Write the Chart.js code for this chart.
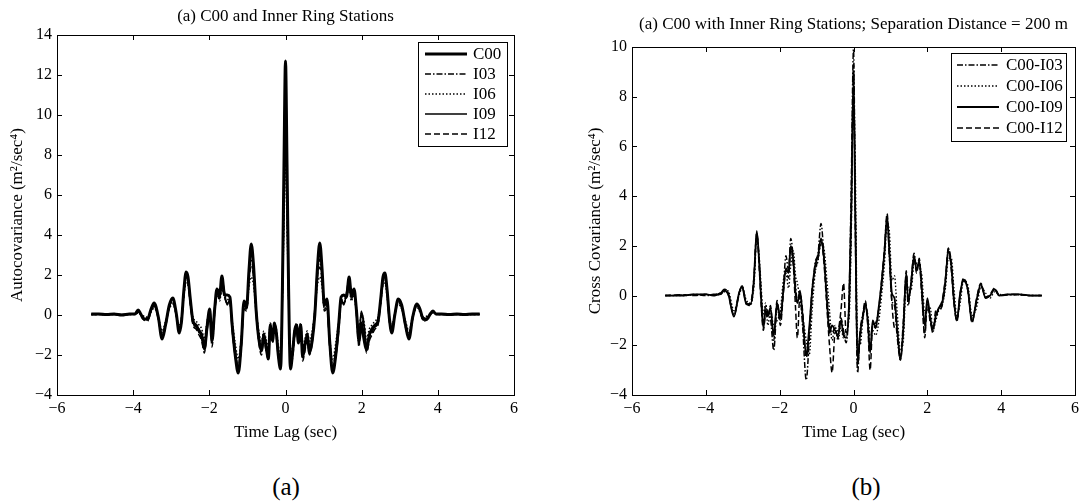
<!DOCTYPE html>
<html>
<head>
<meta charset="utf-8">
<script src="https://cdn.jsdelivr.net/npm/chart.js@4.4.1/dist/chart.umd.min.js"></script>
<style>
  html, body { margin: 0; padding: 0; background: #fff; }
  body { width: 1083px; height: 504px; position: relative; overflow: hidden; }
  canvas { position: absolute; top: 0; }
  #left { left: 0; }
  #right { left: 578px; }
  .cap { position: absolute; top: 473px; font: 25px "Liberation Serif", serif; color: #000; transform: translateX(-50%); }
</style>
</head>
<body>
<canvas id="left" width="540" height="450"></canvas>
<canvas id="right" width="505" height="450"></canvas>
<div class="cap" style="left:286px">(a)</div>
<div class="cap" style="left:866px">(b)</div>
<script>
// ---- panel (a): autocovariance, lag in seconds ----
const lagA = [
  -5.1, -4.9, -4.7, -4.5, -4.3, -4.1, -3.95, -3.87, -3.8, -3.72,
  -3.62, -3.53, -3.45, -3.34, -3.24, -3.15, -3.05, -2.96, -2.87, -2.79,
  -2.73, -2.67, -2.61, -2.56, -2.5, -2.43, -2.35, -2.27, -2.2, -2.13,
  -2.06, -1.99, -1.93, -1.86, -1.8, -1.73, -1.67, -1.6, -1.53, -1.46,
  -1.4, -1.32, -1.24, -1.16, -1.09, -1.02, -0.96, -0.9, -0.84, -0.77,
  -0.7, -0.63, -0.57, -0.51, -0.45, -0.4, -0.34, -0.29, -0.24, -0.19,
  -0.13, -0.08, -0.04, 0,
  0.04, 0.08, 0.13, 0.19, 0.24, 0.29, 0.34, 0.4, 0.45, 0.51,
  0.57, 0.63, 0.7, 0.77, 0.84, 0.9, 0.96, 1.02, 1.09, 1.16,
  1.24, 1.32, 1.4, 1.46, 1.53, 1.6, 1.67, 1.73, 1.8, 1.86,
  1.93, 1.99, 2.06, 2.13, 2.2, 2.27, 2.35, 2.43, 2.5, 2.56,
  2.61, 2.67, 2.73, 2.79, 2.87, 2.96, 3.05, 3.15, 3.24, 3.34,
  3.45, 3.53, 3.62, 3.72, 3.8, 3.87, 3.95, 4.1, 4.3, 4.5,
  4.7, 4.9, 5.1
];

const c00 = [
  0.05, 0.05, 0.03, 0.05, 0.0, 0.05, 0.05, 0.25, 0.05, -0.2,
  -0.2, 0.3, 0.6, -0.1, -1.2, -0.5, 0.5, 0.85, 0.1, -0.9,
  -0.3, 1.2, 2.15, 1.9, 0.8, -0.3, -0.5, -0.8, -1.0, -1.7,
  -0.6, 0.3, -1.3, 0.3, 1.3, 1.0, 1.95, 1.0, 1.0, 0.9,
  -0.5, -2.0, -2.9, -1.4, 0.7, 0.4, 2.2, 3.55, 2.5, 0.2,
  -1.2, -1.8, -1.0, -1.6, -2.2, -0.5, -1.3, -0.4, -0.9, -2.0,
  -2.7, 1.5, 7.5, 12.7,
  7.5, 1.5, -2.7, -1.8, -0.8, -0.5, -1.4, -0.5, -2.1, -1.5,
  -1.0, -1.9, -1.3, 0.0, 2.4, 3.6, 2.3, 0.5, 0.8, -1.3,
  -2.9, -2.0, -0.4, 0.9, 1.0, 0.9, 1.9, 1.0, 1.3, 0.3,
  -1.3, -0.4, -1.2, -1.75, -1.0, -0.7, -0.5, -0.3, 0.8, 1.9,
  2.1, 1.2, -0.2, -0.9, 0.0, 0.8, 0.5, -0.5, -1.2, -0.1,
  0.55, 0.3, -0.2, -0.2, 0.05, 0.2, 0.05, 0.05, 0.03, 0.05,
  0.02, 0.05, 0.05
];

const i03 = [
  0.02, 0.03, 0.02, 0.03, 0.0, 0.03, 0.04, 0.15, 0.03, -0.1,
  -0.15, 0.2, 0.45, -0.1, -0.95, -0.4, 0.35, 0.65, 0.0, -0.7,
  -0.2, 1.0, 1.85, 1.6, 0.6, -0.3, -0.5, -0.9, -1.2, -1.6,
  -0.4, 0.1, -1.1, 0.1, 1.0, 0.8, 1.6, 0.9, 0.6, 0.7,
  -0.5, -1.7, -2.6, -1.2, 0.4, 0.3, 1.8, 2.8, 2.0, 0.1,
  -1.0, -1.6, -0.9, -1.4, -1.9, -0.4, -1.1, -0.5, -0.8, -1.8,
  -2.4, 1.2, 6.2, 10.7,
  6.2, 1.2, -2.4, -1.8, -0.8, -0.5, -1.1, -0.4, -1.9, -1.4,
  -0.9, -1.6, -1.0, 0.1, 2.0, 2.8, 1.8, 0.3, 0.4, -1.2,
  -2.6, -1.7, -0.5, 0.7, 0.6, 0.9, 1.6, 0.8, 1.0, 0.1,
  -1.1, 0.1, -0.4, -1.6, -1.2, -0.9, -0.5, -0.3, 0.6, 1.6,
  1.85, 1.0, -0.2, -0.7, 0.0, 0.65, 0.35, -0.4, -0.95, -0.1,
  0.45, 0.2, -0.15, -0.1, 0.03, 0.15, 0.04, 0.03, 0.0, 0.03,
  0.02, 0.03, 0.02
];

const i06 = [
  0.02, 0.02, 0.01, 0.02, 0.0, 0.02, 0.03, 0.1, 0.02, -0.05,
  -0.1, 0.15, 0.35, -0.05, -0.8, -0.3, 0.3, 0.55, 0.05, -0.55,
  -0.1, 0.9, 1.6, 1.5, 0.7, -0.1, -0.3, -0.5, -0.7, -1.2,
  -0.3, 0.1, -0.9, 0.4, 1.1, 0.7, 1.3, 0.9, 0.8, 0.6,
  -0.3, -1.4, -2.2, -1.1, 0.5, 0.3, 1.4, 1.9, 1.5, 0.2,
  -0.8, -1.3, -0.8, -1.2, -1.6, -0.4, -1.0, -0.4, -0.7, -1.5,
  -2.0, 1.0, 4.5, 7.6,
  4.5, 1.0, -2.0, -1.5, -0.7, -0.4, -1.0, -0.4, -1.6, -1.2,
  -0.8, -1.3, -0.8, 0.2, 1.5, 1.9, 1.4, 0.3, 0.5, -1.1,
  -2.2, -1.4, -0.3, 0.6, 0.8, 0.9, 1.3, 0.7, 1.1, 0.4,
  -0.9, 0.1, -0.3, -1.2, -0.7, -0.5, -0.3, -0.1, 0.7, 1.5,
  1.6, 0.9, -0.1, -0.55, 0.05, 0.55, 0.3, -0.3, -0.8, -0.05,
  0.35, 0.15, -0.1, -0.05, 0.02, 0.1, 0.03, 0.02, 0.0, 0.02,
  0.01, 0.02, 0.02
];

const i09 = [
  0.03, 0.04, 0.02, 0.04, 0.01, 0.04, 0.06, 0.2, 0.04, -0.15,
  -0.25, 0.25, 0.55, -0.15, -1.1, -0.45, 0.45, 0.8, 0.05, -0.85,
  -0.25, 1.1, 2.05, 1.8, 0.75, -0.35, -0.6, -0.7, -1.1, -1.5,
  -0.5, 0.2, -1.2, 0.2, 1.2, 0.9, 1.8, 1.1, 0.5, 0.8,
  -0.6, -1.9, -2.8, -1.5, 0.6, 0.5, 2.0, 3.3, 2.4, 0.3,
  -1.1, -1.7, -1.1, -1.5, -2.0, -0.6, -1.2, -0.5, -1.0, -1.9,
  -2.6, 1.4, 7.2, 12.3,
  7.2, 1.4, -2.6, -1.9, -1.0, -0.5, -1.2, -0.6, -2.0, -1.5,
  -1.1, -1.7, -1.1, 0.3, 2.4, 3.3, 2.0, 0.5, 0.6, -1.5,
  -2.8, -1.9, -0.6, 0.8, 0.5, 1.1, 1.8, 0.9, 1.2, 0.2,
  -1.2, 0.2, -0.5, -1.5, -1.1, -0.7, -0.6, -0.35, 0.75, 1.8,
  2.05, 1.1, -0.25, -0.85, 0.05, 0.8, 0.45, -0.45, -1.1, -0.15,
  0.55, 0.25, -0.25, -0.15, 0.04, 0.2, 0.06, 0.04, 0.01, 0.04,
  0.02, 0.04, 0.03
];

const i12 = [
  0.03, 0.02, 0.04, 0.03, 0.02, 0.04, 0.05, 0.2, 0.0, -0.25,
  -0.3, 0.2, 0.5, -0.2, -1.1, -0.6, 0.4, 0.7, 0.0, -0.8,
  -0.4, 1.0, 1.9, 1.7, 0.6, -0.5, -0.7, -1.0, -1.3, -1.9,
  -0.8, 0.0, -1.6, 0.1, 1.1, 0.8, 1.5, 0.9, 0.6, 0.7,
  -0.8, -2.1, -2.7, -1.6, 0.3, 0.2, 1.7, 2.4, 1.9, 0.0,
  -1.4, -2.0, -1.2, -1.8, -2.3, -0.7, -1.4, -0.6, -1.1, -2.1,
  -2.5, 1.0, 5.5, 9.6,
  5.5, 1.0, -2.5, -2.1, -1.1, -0.6, -1.4, -0.7, -2.3, -1.8,
  -1.2, -2.0, -1.4, 0.0, 1.9, 2.4, 1.7, 0.2, 0.3, -1.6,
  -2.7, -2.1, -0.8, 0.7, 0.6, 0.9, 1.5, 0.8, 1.1, 0.1,
  -1.6, 0.0, -0.8, -1.9, -1.3, -1.0, -0.7, -0.5, 0.6, 1.7,
  1.9, 1.0, -0.4, -0.8, 0.0, 0.7, 0.4, -0.6, -1.1, -0.2,
  0.5, 0.2, -0.3, -0.25, 0.0, 0.2, 0.05, 0.04, 0.02, 0.03,
  0.04, 0.02, 0.03
];

// ---- panel (b): cross covariance with C00 ----
const lagB = [
  -5.1, -4.6, -4.3, -4.0, -3.8, -3.6, -3.5, -3.4, -3.24, -3.1,
  -3.02, -2.9, -2.79, -2.7, -2.62, -2.55, -2.5, -2.44, -2.38, -2.32,
  -2.25, -2.16, -2.07, -1.98, -1.9, -1.83, -1.76, -1.7, -1.63, -1.57,
  -1.52, -1.45, -1.38, -1.28, -1.2, -1.12, -1.04, -0.96, -0.88, -0.8,
  -0.72, -0.65, -0.58, -0.5, -0.42, -0.34, -0.27, -0.2, -0.12, -0.06,
  0, 0.05, 0.11, 0.18, 0.25, 0.32, 0.39, 0.45, 0.52, 0.6,
  0.68, 0.76, 0.84, 0.91, 0.97, 1.04, 1.11, 1.18, 1.27, 1.35,
  1.43, 1.48, 1.56, 1.64, 1.71, 1.78, 1.85, 1.93, 2.0, 2.08,
  2.15, 2.23, 2.31, 2.4, 2.49, 2.57, 2.65, 2.72, 2.8, 2.89,
  2.98, 3.1, 3.21, 3.33, 3.45, 3.58, 3.7, 3.82, 3.95, 4.2,
  4.5, 4.8, 5.1
];

const x03 = [
  0, 0.02, 0.05, 0.0, 0.05, 0.1, 0.25, 0.15, -0.8, 0.05,
  0.4, -0.3, -0.4, 0.5, 2.5, 1.3, 0.1, -1.2, -0.4, -0.7,
  -0.9, -2.2, -0.5, -1.0, 0.3, 1.6, 1.0, 2.3, 1.5, 0.4,
  -0.2, 0.0, -1.2, -3.4, -1.8, 0.0, 1.3, 1.7, 2.9, 1.6,
  0.0, -1.2, -1.5, -1.3, -1.7, -0.9, -1.4, -1.9, -0.1, 4.5,
  9.9, 3.5, -3.1, -1.4, -0.8, -0.4, -1.0, -2.2, -1.2, -1.1,
  -0.6, 0.4, 1.7, 3.1, 1.6, -0.2, -0.4, -1.6, -2.6, -1.0,
  0.8, -0.4, 0.6, 1.7, 1.1, 1.3, 0.0, -1.5, -0.3, -1.0,
  -1.5, -0.6, -0.6, -0.4, 0.5, 1.9, 1.0, -0.3, -1.0, 0.0,
  0.6, 0.2, -1.0, -0.3, 0.4, -0.05, 0.0, 0.25, 0.0, 0.03,
  0.05, 0, 0
];

const x06 = [
  0, 0, 0.03, 0.05, 0.02, 0.05, 0.15, 0.2, -0.6, 0.0,
  0.3, -0.2, -0.3, 0.3, 2.2, 1.5, 0.3, -0.8, -0.3, -1.2,
  -0.6, -1.2, -1.0, -0.6, 0.6, 0.9, 0.3, 1.2, 1.8, 0.8,
  0.5, -0.2, -0.8, -1.8, -2.4, -0.6, 0.9, 1.4, 2.1, 1.9,
  0.6, -0.6, -1.8, -1.2, -1.8, -1.3, -1.7, -1.4, -0.9, 2.5,
  8.4, 5.0, -1.8, -2.0, -1.0, -0.5, -0.8, -1.6, -1.4, -1.6,
  -1.1, 0.0, 1.3, 2.9, 2.6, 0.6, 0.8, -0.6, -2.2, -1.8,
  0.5, 0.3, 0.2, 1.3, 1.3, 1.2, 0.8, -0.7, -0.6, -0.5,
  -1.4, -1.0, -0.6, -0.4, 0.3, 1.5, 1.5, 0.3, -0.8, -0.3,
  0.6, 0.4, -0.8, -0.5, 0.35, 0.1, -0.1, 0.15, 0.05, 0.03,
  0.03, 0, 0
];

const x09 = [
  0, 0, 0.05, 0.05, 0, 0.1, 0.2, 0.1, -0.85, 0.1,
  0.35, -0.35, -0.35, 0.6, 2.6, 1.2, -0.2, -1.3, -0.6, -0.8,
  -0.5, -1.6, -0.3, -0.9, 0.2, 1.1, 0.9, 2.0, 1.4, 0.1,
  -0.3, 0.2, -0.8, -2.4, -1.3, 0.2, 1.2, 1.6, 2.3, 1.5,
  -0.2, -1.5, -1.2, -1.4, -1.6, -1.0, -1.6, -1.7, -0.3, 3.5,
  8.7, 3.0, -2.6, -1.5, -0.9, -0.3, -1.1, -2.3, -1.0, -1.3,
  -0.5, 0.5, 1.8, 3.2, 1.8, 0.1, -0.1, -1.3, -2.5, -1.3,
  0.9, -0.2, 0.5, 1.6, 1.0, 1.4, 0.3, -1.2, -0.1, -0.9,
  -1.35, -0.8, -0.5, -0.3, 0.6, 1.8, 1.2, -0.2, -1.0, 0.1,
  0.65, 0.2, -1.05, -0.2, 0.45, -0.1, 0, 0.25, 0.0, 0.05,
  0.05, 0, 0
];

const x12 = [
  0, 0.03, 0.0, 0.05, 0.03, 0.05, 0.2, 0.05, -0.75, 0.1,
  0.4, -0.35, -0.3, 0.7, 2.5, 1.0, -0.4, -1.4, -0.7, -0.9,
  -0.4, -1.8, -0.2, -1.2, 0.1, 1.0, 0.7, 1.9, 1.2, -0.5,
  -1.7, 0.1, -0.6, -2.5, -1.5, 0.3, 1.0, 1.5, 2.2, 1.3,
  -0.5, -2.0, -3.1, -1.5, -1.4, -0.6, 0.5, -1.5, -0.5, 3.0,
  9.3, 2.5, -2.8, -1.7, -0.8, -0.2, -1.3, -3.0, -1.2, -1.3,
  -0.6, 0.6, 1.9, 3.3, 1.7, -0.3, -1.3, -1.4, -2.6, -1.4,
  1.0, -0.1, 0.4, 1.5, 0.9, 1.5, 0.2, -1.7, -0.2, -1.1,
  -1.3, -0.9, -0.5, -0.2, 0.7, 1.9, 1.3, -0.1, -1.05, 0.1,
  0.7, 0.2, -1.1, -0.15, 0.5, -0.1, 0.05, 0.3, 0.02, 0.05,
  0.03, 0, 0
];

const xTicks = [-6, -4, -2, 0, 2, 4, 6];

const FONT = '"Liberation Serif", "Times New Roman", serif';
const minus = v => String(v).replace('-', '\u2212');

function pts(lags, vals) {
  return lags.map((x, i) => ({ x: x, y: vals[i] }));
}

function line(label, lags, vals, width, dash) {
  return {
    label: label,
    data: pts(lags, vals),
    borderColor: "#000",
    borderWidth: width,
    borderDash: dash,
    pointRadius: 0,
    fill: false,
    tension: 0.3,
    cubicInterpolationMode: "monotone",
  };
}

// box, inward ticks, title and legend drawn on the chart area
const framePlugin = {
  id: "frame",
  afterDraw(chart, args, opts) {
    const { ctx, chartArea: a } = chart;
    const xs = chart.scales.x, ys = chart.scales.y;
    ctx.save();
    ctx.strokeStyle = "#000";
    ctx.lineWidth = 1;
    ctx.strokeRect(Math.round(a.left) + 0.5, Math.round(a.top) + 0.5,
      Math.round(a.right - a.left), Math.round(a.bottom - a.top));
    ctx.beginPath();
    xs.ticks.forEach(t => {
      const px = Math.round(xs.getPixelForValue(t.value)) + 0.5;
      ctx.moveTo(px, a.bottom); ctx.lineTo(px, a.bottom - 5);
      ctx.moveTo(px, a.top); ctx.lineTo(px, a.top + 5);
    });
    ys.ticks.forEach(t => {
      const py = Math.round(ys.getPixelForValue(t.value)) + 0.5;
      ctx.moveTo(a.left, py); ctx.lineTo(a.left + 5, py);
      ctx.moveTo(a.right, py); ctx.lineTo(a.right - 5, py);
    });
    ctx.stroke();

    ctx.fillStyle = "#000";
    ctx.font = "17px " + FONT;
    ctx.textAlign = "center";
    ctx.textBaseline = "middle";
    ctx.fillText(opts.title, (a.left + a.right) / 2, a.top - opts.titleGap);

    // legend
    const L = opts.legend;
    const bx = a.right - L.right - L.w, by = a.top + L.top;
    ctx.fillStyle = "#fff";
    ctx.fillRect(bx, by, L.w, L.h);
    ctx.strokeRect(Math.round(bx) + 0.5, Math.round(by) + 0.5, L.w, L.h);
    ctx.textAlign = "left";
    chart.data.datasets.forEach((ds, i) => {
      const y = by + L.first + i * L.step;
      ctx.beginPath();
      ctx.setLineDash(ds.borderDash || []);
      ctx.lineWidth = ds.borderWidth;
      ctx.moveTo(bx + L.s0, y); ctx.lineTo(bx + L.s1, y);
      ctx.stroke();
      ctx.setLineDash([]);
      ctx.fillStyle = "#000";
      ctx.fillText(ds.label, bx + L.tx, y + 1);
    });
    ctx.restore();
  }
};

function makeOptions(yMin, yMax, yTitle, yWidth, padRight, padTop, frame) {
  return {
    responsive: false,
    animation: false,
    layout: { padding: { top: padTop, right: padRight, left: 0, bottom: 0 } },
    plugins: {
      legend: { display: false },
      tooltip: { enabled: false },
      frame: frame,
    },
    scales: {
      x: {
        type: "linear",
        min: -6,
        max: 6,
        afterBuildTicks: s => { s.ticks = xTicks.map(v => ({ value: v })); },
        afterFit: s => { s.height = 55; },
        grid: { display: false, drawTicks: false },
        border: { display: false },
        ticks: { color: "#000", padding: 4, font: { family: FONT, size: 16 }, callback: minus, maxRotation: 0 },
        title: { display: true, text: "Time Lag (sec)", color: "#000", font: { family: FONT, size: 17 }, padding: { top: 0, bottom: 7 } },
      },
      y: {
        min: yMin,
        max: yMax,
        afterFit: s => { s.width = yWidth; },
        grid: { display: false, drawTicks: false },
        border: { display: false },
        ticks: { color: "#000", padding: 5, stepSize: 2, font: { family: FONT, size: 16 }, callback: minus },
        title: { display: true, text: yTitle, color: "#000", font: { family: FONT, size: 17 }, padding: { top: 7, bottom: 0 } },
      },
    },
  };
}

new Chart(document.getElementById("left"), {
  type: "line",
  data: {
    datasets: [
      line("C00", lagA, c00, 3, []),
      line("I03", lagA, i03, 1.5, [6, 2, 1.5, 2]),
      line("I06", lagA, i06, 1.5, [1.5, 2]),
      line("I09", lagA, i09, 1.6, []),
      line("I12", lagA, i12, 1.5, [6, 3]),
    ],
  },
  options: makeOptions(-4, 14, "Autocovariance (m\u00B2/sec\u2074)", 57, 26, 35, {
    title: "(a) C00 and Inner Ring Stations",
    titleGap: 18,
    legend: { right: 7, top: 7, w: 89, h: 104, first: 12, step: 20, s0: 7, s1: 49, tx: 55 },
  }),
  plugins: [framePlugin],
});

new Chart(document.getElementById("right"), {
  type: "line",
  data: {
    datasets: [
      line("C00-I03", lagB, x03, 1.5, [6, 2, 1.5, 2]),
      line("C00-I06", lagB, x06, 1.4, [1.5, 2]),
      line("C00-I09", lagB, x09, 1.8, []),
      line("C00-I12", lagB, x12, 1.5, [6, 3]),
    ],
  },
  options: makeOptions(-4, 10, "Cross Covariance (m\u00B2/sec\u2074)", 54, 3, 47, {
    title: "(a) C00 with Inner Ring Stations; Separation Distance = 200 m",
    titleGap: 22,
    legend: { right: 9, top: 6, w: 115, h: 88, first: 12, step: 21, s0: 6, s1: 48, tx: 55 },
  }),
  plugins: [framePlugin],
});
</script>
</body>
</html>
